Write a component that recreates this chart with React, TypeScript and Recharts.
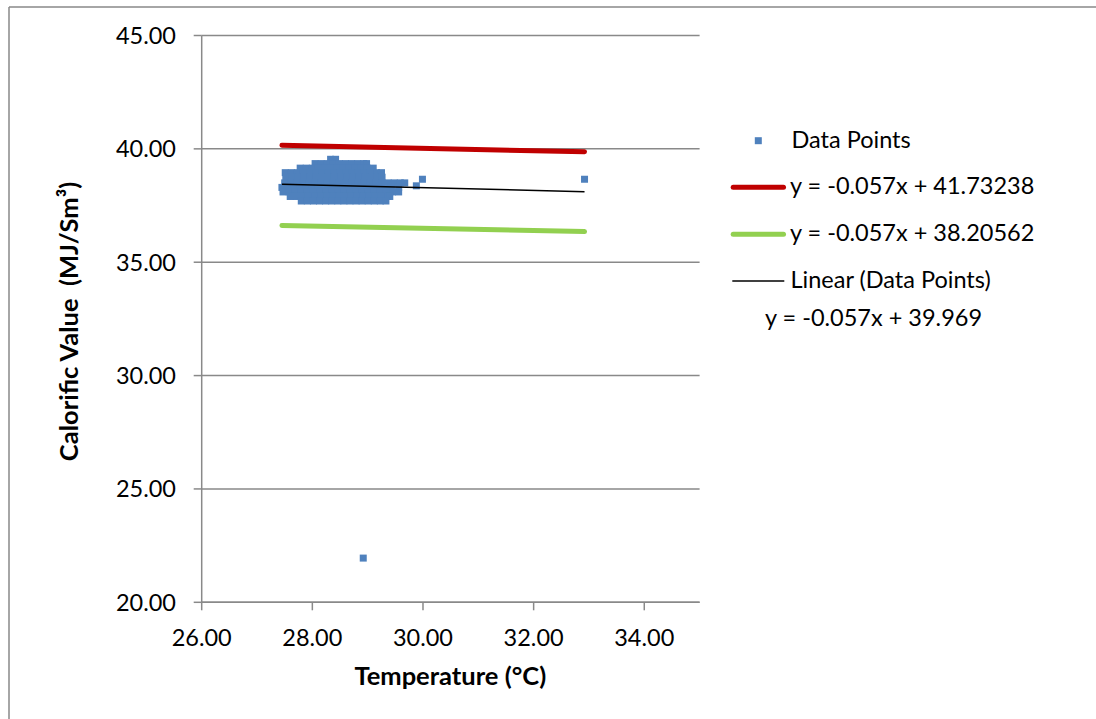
import React from 'react';
import {
  ScatterChart,
  Scatter,
  XAxis,
  YAxis,
  CartesianGrid,
} from 'recharts';

// Calorific value vs temperature scatter with +/- band lines (Excel style)

const COLORS = {
  points: '#4F81BD',
  upper: '#C00000',
  lower: '#92D050',
  trend: '#000000',
  axis: '#898989',
  text: '#000000',
};

const FONT = 'Lato, "Open Sans", sans-serif';

const X_TICKS = [26, 28, 30, 32, 34];
const Y_TICKS = [20, 25, 30, 35, 40, 45];

// main cluster, one row of temperatures per calorific value level
const clusterLevels = [39.54, 39.35, 39.15, 38.95, 38.75, 38.5, 38.3, 38.1, 37.9, 37.7];
const clusterTemps = [
  [28.33, 28.42],
  [28.05, 28.16, 28.27, 28.38, 28.49, 28.6, 28.71, 28.82, 28.93, 28.98],
  [27.78, 27.89, 28.0, 28.11, 28.22, 28.33, 28.44, 28.55, 28.66, 28.77, 28.88, 28.99, 29.1],
  [27.51, 27.62, 27.73, 27.84, 27.95, 28.06, 28.17, 28.28, 28.39, 28.5, 28.61, 28.72, 28.83, 28.94, 29.05, 29.16, 29.25],
  [27.52, 27.63, 27.74, 27.85, 27.96, 28.07, 28.18, 28.29, 28.4, 28.51, 28.62, 28.73, 28.84, 28.95, 29.06, 29.17, 29.26],
  [27.5, 27.61, 27.72, 27.83, 27.94, 28.05, 28.16, 28.27, 28.38, 28.49, 28.6, 28.71, 28.82, 28.93, 29.04, 29.15, 29.26, 29.37, 29.48, 29.59, 29.67],
  [27.45, 27.56, 27.67, 27.78, 27.89, 28.0, 28.11, 28.22, 28.33, 28.44, 28.55, 28.66, 28.77, 28.88, 28.99, 29.1, 29.21, 29.32, 29.43, 29.56],
  [27.47, 27.58, 27.69, 27.8, 27.91, 28.02, 28.13, 28.24, 28.35, 28.46, 28.57, 28.68, 28.79, 28.9, 29.01, 29.12, 29.23, 29.34, 29.45, 29.56],
  [27.6, 27.71, 27.82, 27.93, 28.04, 28.15, 28.26, 28.37, 28.48, 28.59, 28.7, 28.81, 28.92, 29.03, 29.14, 29.25, 29.36, 29.4],
  [27.8, 27.91, 28.02, 28.13, 28.24, 28.35, 28.46, 28.57, 28.68, 28.79, 28.9, 29.01, 29.12, 29.23, 29.33],
];

// stray readings outside the cluster
const outlierTemps = [29.88, 29.99, 32.92, 28.92];
const outlierValues = [38.37, 38.66, 38.66, 21.95];

// band / trend lines (end points)
const lineTemps = [27.45, 32.92];
const upperValues = [40.16, 39.87];
const lowerValues = [36.62, 36.35];
const trendValues = [38.44, 38.11];

const dataPoints = [
  ...clusterLevels.flatMap((v, i) => clusterTemps[i].map((t) => ({ x: t, y: v }))),
  ...outlierTemps.map((t, i) => ({ x: t, y: outlierValues[i] })),
];
const upperLine = lineTemps.map((t, i) => ({ x: t, y: upperValues[i] }));
const lowerLine = lineTemps.map((t, i) => ({ x: t, y: lowerValues[i] }));
const trendLine = lineTemps.map((t, i) => ({ x: t, y: trendValues[i] }));

const SquareDot = (props: any) => (
  <rect x={props.cx - 3.5} y={props.cy - 3.5} width={7} height={7} fill={COLORS.points} />
);
const NoDot = () => <g />;

const tickStyle = { fill: COLORS.text, fontSize: 23.5, fontFamily: FONT };

export default function App() {
  return (
    <div style={{ position: 'absolute', left: 0, top: 0, width: 1096, height: 719, background: '#fff' }}>
      <div style={{ position: 'absolute', left: 0, top: 0 }}>
        <ScatterChart
          width={1096}
          height={719}
          margin={{ top: 35.5, right: 396.4, bottom: 56.7, left: 101.7 }}
        >
          <CartesianGrid vertical={false} stroke={COLORS.axis} strokeWidth={1.5} />
          <XAxis
            type="number"
            dataKey="x"
            domain={[26, 35]}
            ticks={X_TICKS}
            tickFormatter={(v: number) => v.toFixed(2)}
            height={60}
            tickSize={8}
            tickMargin={19}
            stroke={COLORS.axis}
            strokeWidth={1.5}
            tick={tickStyle}
            allowDataOverflow
          />
          <YAxis
            type="number"
            dataKey="y"
            domain={[20, 45]}
            ticks={Y_TICKS}
            tickFormatter={(v: number) => v.toFixed(2)}
            width={100}
            tickSize={8}
            tickMargin={17.7}
            stroke={COLORS.axis}
            strokeWidth={1.5}
            tick={tickStyle}
            allowDataOverflow
          />
          <Scatter data={dataPoints} shape={SquareDot} isAnimationActive={false} />
          <Scatter
            data={upperLine}
            fill={COLORS.upper}
            line={{ stroke: COLORS.upper, strokeWidth: 5, strokeLinecap: 'round' }}
            lineType="joint"
            shape={NoDot}
            isAnimationActive={false}
          />
          <Scatter
            data={lowerLine}
            fill={COLORS.lower}
            line={{ stroke: COLORS.lower, strokeWidth: 5, strokeLinecap: 'round' }}
            lineType="joint"
            shape={NoDot}
            isAnimationActive={false}
          />
          <Scatter
            data={trendLine}
            fill={COLORS.trend}
            line={{ stroke: COLORS.trend, strokeWidth: 1.5 }}
            lineType="joint"
            shape={NoDot}
            isAnimationActive={false}
          />
        </ScatterChart>
      </div>

      {/* frame, axis titles and legend */}
      <svg
        width={1096}
        height={719}
        style={{ position: 'absolute', left: 0, top: 0, pointerEvents: 'none' }}
      >
        <line x1={9} y1={7} x2={9} y2={719} stroke={COLORS.axis} strokeWidth={1.5} />
        <line x1={9} y1={7} x2={1096} y2={7} stroke={COLORS.axis} strokeWidth={1.5} />

        <text
          x={450.3}
          y={685}
          textAnchor="middle"
          fontFamily={FONT}
          fontWeight="bold"
          fontSize={25.5}
          fill={COLORS.text}
        >
          Temperature (°C)
        </text>
        <text
          transform="translate(77.5, 321.5) rotate(-90)"
          textAnchor="middle"
          fontFamily={FONT}
          fontWeight="bold"
          fontSize={25.5}
          fill={COLORS.text}
          style={{ whiteSpace: 'pre' }}
        >
          {'Calorific Value  (MJ/Sm³)'}
        </text>

        <g fontFamily={FONT} fontSize={23.5} fill={COLORS.text}>
          <rect x={754.8} y={137.2} width={7} height={7} fill={COLORS.points} />
          <text x={791.5} y={147.7}>Data Points</text>

          <line x1={733.2} y1={187.3} x2={783.5} y2={187.3} stroke={COLORS.upper} strokeWidth={5} strokeLinecap="round" />
          <text x={790} y={194}>y = -0.057x + 41.73238</text>

          <line x1={733.2} y1={234.3} x2={783.5} y2={234.3} stroke={COLORS.lower} strokeWidth={5} strokeLinecap="round" />
          <text x={790} y={241}>y = -0.057x + 38.20562</text>

          <line x1={732.3} y1={281} x2={784.3} y2={281} stroke={COLORS.trend} strokeWidth={1.5} />
          <text x={790.5} y={288}>Linear (Data Points)</text>

          <text x={765} y={326}>y = -0.057x + 39.969</text>
        </g>
      </svg>
    </div>
  );
}
